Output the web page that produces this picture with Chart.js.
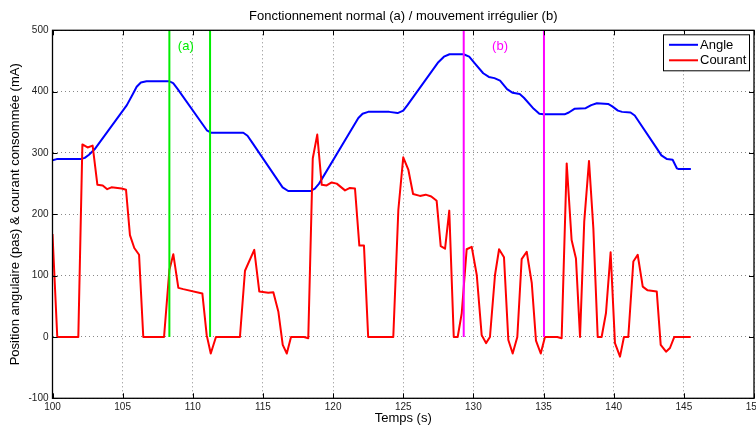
<!DOCTYPE html>
<html>
<head>
<meta charset="utf-8">
<script src="https://cdn.jsdelivr.net/npm/chart.js@4/dist/chart.umd.min.js"></script>
<style>
html,body{margin:0;padding:0;background:#fff;}
#wrap{width:756px;height:428px;}
</style>
</head>
<body>
<div id="wrap"><canvas id="c" width="756" height="428"></canvas></div>
<script>
// ---- Data ----
const chartTitle = 'Fonctionnement normal (a) / mouvement irrégulier (b)';
const xTitle = 'Temps (s)';
const yTitle = 'Position angulaire (pas) & courant consommée (mA)';
const seriesNames = ['Angle', 'Courant'];

const xRange = [100, 150];
const xStep = 5;
const yRange = [-100, 500];
const yStep = 100;

// Angle (pas)
const angleT = [100.0,100.3,102.0,102.3,102.6,103.0,105.3,105.7,106.0,106.3,106.7,108.3,108.6,108.9,111.0,111.3,113.6,113.9,114.2,116.4,116.8,118.4,118.7,119.0,121.8,122.1,122.5,124.0,124.6,125.0,125.3,127.5,127.9,128.3,129.3,129.7,130.1,130.7,131.1,131.5,131.9,132.4,132.8,133.3,133.6,134.3,134.7,135.0,136.5,136.8,137.2,138.0,138.4,138.8,139.6,139.9,140.3,140.6,141.2,141.5,143.0,143.4,143.8,144.2,144.5,144.6,145.5];
const angleV = [288,290,290,292,297,306,378,395,408,415,417,417,414,405,337,333,333,328,318,244,238,238,242,250,357,364,367,367,365,369,378,448,457,461,461,457,446,430,424,422,418,404,398,396,390,372,364,363,363,366,372,373,378,381,380,376,369,367,366,361,310,296,290,289,275,274,274];

// Courant (mA)
const courantT = [100.0,100.34,101.84,102.13,102.5,102.86,103.2,103.58,103.9,104.2,104.93,105.24,105.52,105.83,106.17,106.47,107.95,108.33,108.61,108.97,109.32,110.68,110.99,111.28,111.65,113.36,113.72,114.38,114.74,115.38,115.74,116.1,116.41,116.7,117.0,117.93,118.23,118.55,118.87,119.19,119.54,119.9,120.26,120.85,121.2,121.56,121.87,122.2,122.5,124.29,124.65,125.0,125.36,125.7,126.19,126.6,127.0,127.38,127.67,127.98,128.28,128.6,128.88,129.17,129.52,129.88,130.24,130.59,130.9,131.18,131.54,131.83,132.18,132.49,132.8,133.13,133.44,133.8,134.16,134.46,134.8,135.1,135.98,136.29,136.65,137.0,137.31,137.6,137.9,138.24,138.55,138.86,139.14,139.45,139.78,140.09,140.45,140.73,141.04,141.4,141.71,142.07,142.42,143.07,143.35,143.73,144.01,144.32,145.49];
const courantV = [168,0,0,314,309,312,248,247,241,244,242,240,166,145,134,0,0,109,135,80,78,71,3,-27,0,0,108,142,74,72,73,41,-13,-27,0,0,-2,291,330,248,247,252,250,239,243,242,149,149,0,0,207,293,273,233,230,232,229,222,148,144,206,0,0,39,143,147,101,3,-10,0,101,143,130,-5,-27,0,127,139,88,-6,-27,0,0,-2,283,158,128,0,188,287,177,0,0,39,138,-10,-32,0,0,123,134,82,76,74,-13,-24,-18,0,0];

// Vertical markers
const markersA = [108.33, 111.23];   // (a) green
const markersB = [129.31, 135.03];   // (b) magenta
const markerSpan = [0, 500];
const annotations = [
  {text: '(a)', x: 109.5, y: 473, color: '#00ee00'},
  {text: '(b)', x: 131.9, y: 473, color: '#ff00ff'}
];

// ---- Build datasets ----
const toPts = (xs, ys) => xs.map((v, i) => ({x: v, y: ys[i]}));
const FONT = "'Liberation Sans', Arial, Helvetica, sans-serif";

const datasets = [
  {label: seriesNames[0], data: toPts(angleT, angleV), borderColor: '#0000ff', borderWidth: 2, order: 4},
  {label: seriesNames[1], data: toPts(courantT, courantV), borderColor: '#ff0000', borderWidth: 2, order: 3}
];
markersA.forEach(m => datasets.push({label: '', data: [{x: m, y: markerSpan[0]}, {x: m, y: markerSpan[1]}], borderColor: '#00ee00', borderWidth: 2, order: 2, isMarker: true}));
markersB.forEach(m => datasets.push({label: '', data: [{x: m, y: markerSpan[0]}, {x: m, y: markerSpan[1]}], borderColor: '#ff00ff', borderWidth: 2, order: 1, isMarker: true}));
datasets.forEach(d => { d.showLine = true; d.pointRadius = 0; d.fill = false; d.tension = 0; d.borderJoinStyle = 'round'; });

const framePlugin = {
  id: 'frame',
  afterDatasetsDraw(chart) {
    const {ctx, chartArea: a, scales: {x, y}} = chart;
    ctx.save();
    // annotations
    ctx.font = '13px ' + FONT;
    ctx.textAlign = 'center';
    ctx.textBaseline = 'middle';
    annotations.forEach(an => {
      ctx.fillStyle = an.color;
      ctx.fillText(an.text, x.getPixelForValue(an.x), y.getPixelForValue(an.y));
    });
    // inward ticks
    ctx.strokeStyle = '#000';
    ctx.lineWidth = 1;
    ctx.beginPath();
    const tl = 5;
    x.ticks.forEach(t => {
      const p = Math.round(x.getPixelForValue(t.value)) + 0.5;
      ctx.moveTo(p, a.bottom); ctx.lineTo(p, a.bottom - tl);
      ctx.moveTo(p, a.top); ctx.lineTo(p, a.top + tl);
    });
    y.ticks.forEach(t => {
      const p = Math.round(y.getPixelForValue(t.value)) + 0.5;
      ctx.moveTo(a.left, p); ctx.lineTo(a.left + tl, p);
      ctx.moveTo(a.right, p); ctx.lineTo(a.right - tl, p);
    });
    ctx.stroke();
    // box
    ctx.lineWidth = 1.3;
    ctx.strokeRect(a.left, a.top, a.right - a.left, a.bottom - a.top);
    // legend
    const bw = 86, bh = 36;
    const bx = a.right - 5 - bw, by = a.top + 4;
    ctx.fillStyle = '#fff';
    ctx.fillRect(bx, by, bw, bh);
    ctx.lineWidth = 1;
    ctx.strokeStyle = '#000';
    ctx.strokeRect(bx + 0.5, by + 0.5, bw, bh);
    const items = chart.data.datasets.filter(d => !d.isMarker);
    ctx.textAlign = 'left';
    ctx.textBaseline = 'middle';
    ctx.font = '13px ' + FONT;
    items.forEach((d, i) => {
      const ly = by + 10.5 + i * 15.5;
      ctx.strokeStyle = d.borderColor;
      ctx.lineWidth = 2;
      ctx.beginPath();
      ctx.moveTo(bx + 6, ly); ctx.lineTo(bx + 35, ly);
      ctx.stroke();
      ctx.fillStyle = '#000';
      ctx.fillText(d.label, bx + 37, ly + 0.5);
    });
    ctx.restore();
  }
};

new Chart(document.getElementById('c'), {
  type: 'scatter',
  data: {datasets},
  options: {
    responsive: false,
    animation: false,
    devicePixelRatio: 1,
    events: [],
    layout: {padding: {left: 0, right: 2, top: 0, bottom: 0}, autoPadding: false},
    plugins: {
      legend: {display: false},
      tooltip: {enabled: false},
      title: {
        display: true, text: chartTitle, fullSize: false,
        color: '#000', font: {family: FONT, size: 13, weight: 'normal'},
        padding: {top: 9, bottom: 5.7}
      }
    },
    scales: {
      x: {
        type: 'linear', min: xRange[0], max: xRange[1],
        afterFit(s) { s.height = 29.7; s.paddingLeft = 0; s.paddingRight = 0; },
        ticks: {stepSize: xStep, color: '#222', font: {family: FONT, size: 10}, padding: 3, maxRotation: 0, autoSkip: false},
        grid: {color: '#888', borderDash: [1, 3], lineWidth: 1, drawTicks: false},
        border: {display: false, dash: [1, 3]},
        title: {display: true, text: xTitle, color: '#000', font: {family: FONT, size: 13}, padding: {top: 0, bottom: 2}}
      },
      y: {
        type: 'linear', min: yRange[0], max: yRange[1],
        afterFit(s) { s.width = 52.5; s.paddingTop = 0; s.paddingBottom = 0; },
        ticks: {stepSize: yStep, color: '#222', font: {family: FONT, size: 10}, padding: 4},
        grid: {color: '#888', lineWidth: 1, drawTicks: false},
        border: {display: false, dash: [1, 3]},
        title: {display: true, text: yTitle, color: '#000', font: {family: FONT, size: 13}, padding: {top: 8, bottom: 0}}
      }
    }
  },
  plugins: [framePlugin]
});
</script>
</body>
</html>
